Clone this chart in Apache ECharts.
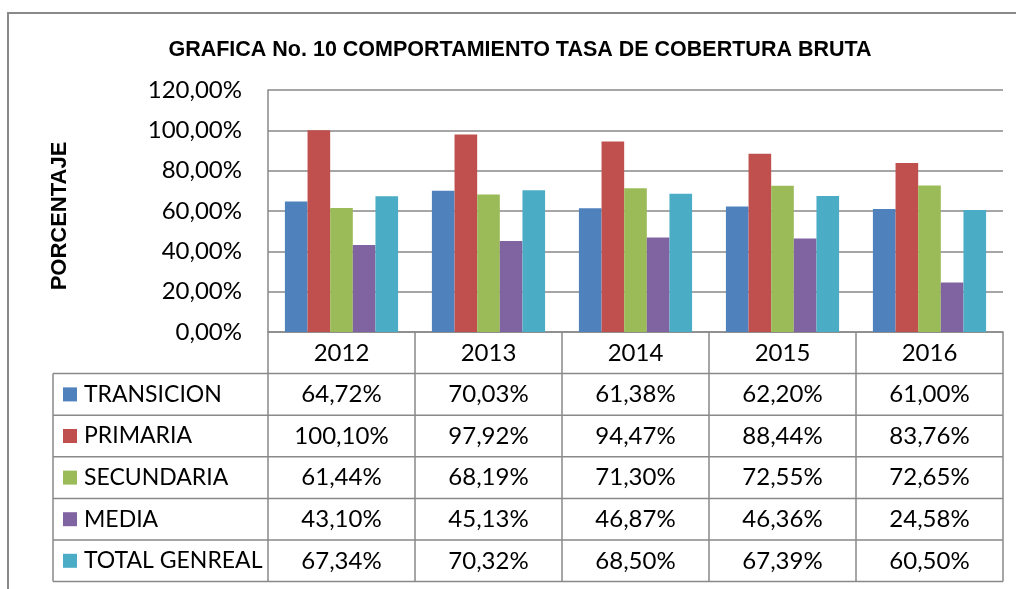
<!DOCTYPE html>
<html>
<head>
<meta charset="utf-8">
<title>Grafica No. 10</title>
<script src="https://cdn.jsdelivr.net/npm/echarts@6.0.0/dist/echarts.min.js"></script>
<style>
html, body { margin: 0; padding: 0; background: #fff; }
#main { width: 1016px; height: 589px; }
</style>
</head>
<body>
<div id="main"></div>
<script>
// datos de la grafica
var categorias = ['2012', '2013', '2014', '2015', '2016']
var nombres = ['TRANSICION', 'PRIMARIA', 'SECUNDARIA', 'MEDIA', 'TOTAL GENREAL']
var transicion = [64.72, 70.03, 61.38, 62.20, 61.00]
var primaria = [100.10, 97.92, 94.47, 88.44, 83.76]
var secundaria = [61.44, 68.19, 71.30, 72.55, 72.65]
var media = [43.10, 45.13, 46.87, 46.36, 24.58]
var totalGeneral = [67.34, 70.32, 68.50, 67.39, 60.50]
var ejeYMax = 120
var ejeYPaso = 20

var colores = ['#4F81BD', '#C0504D', '#9BBB59', '#8064A2', '#4BACC6']
var valores = [transicion, primaria, secundaria, media, totalGeneral]

var fuente = 'Lato, "Open Sans", sans-serif'
var fuenteTitulo = '"Liberation Sans", Arial, sans-serif'
var gris = '#898989'
var filaAlto = 41.6 // alto de cada fila de la tabla de datos
var textoAlto = 24
var gridIzq = 268
var gridTop = 90
var gridAbajo = 257
var gridDer = 13
var ejeAbajo = 589 - gridAbajo
var tablaIzq = 53

function pct (v) {
  return v.toFixed(2).replace('.', ',') + '%'
}

// lineas horizontales de la tabla
var lineasTabla = []
for (var k = 1; k <= 6; k++) {
  var y = ejeAbajo + filaAlto * k
  lineasTabla.push({
    type: 'line',
    shape: { x1: tablaIzq, y1: y, x2: 1016 - gridDer, y2: y },
    style: { stroke: gris, lineWidth: 1.5 }
  })
}
// borde izquierdo de la tabla
lineasTabla.push({
  type: 'line',
  shape: { x1: tablaIzq, y1: ejeAbajo + filaAlto, x2: tablaIzq, y2: ejeAbajo + filaAlto * 6 },
  style: { stroke: gris, lineWidth: 1.5 }
})
// marco exterior
lineasTabla.push({
  type: 'rect',
  shape: { x: 8, y: 13, width: 1200, height: 800 },
  style: { fill: 'none', stroke: gris, lineWidth: 2 }
})

var chart = echarts.init(document.getElementById('main'))
chart.setOption({
  animation: false,
  title: {
    text: 'GRAFICA No. 10 COMPORTAMIENTO TASA DE COBERTURA BRUTA',
    left: 515,
    top: 34,
    textAlign: 'center',
    textStyle: { fontFamily: fuenteTitulo, fontWeight: 'bold', fontSize: 21.5, color: '#000' }
  },
  legend: {
    orient: 'vertical',
    left: 63,
    top: ejeAbajo + filaAlto * 1.5 - textoAlto / 2,
    height: 300,
    padding: 0,
    itemWidth: 14,
    itemHeight: 14,
    itemGap: filaAlto - textoAlto,
    icon: 'rect',
    data: nombres,
    textStyle: { fontFamily: fuente, fontSize: 23, lineHeight: textoAlto, color: '#000', padding: [0, 0, 0, 2] }
  },
  grid: { left: gridIzq, right: gridDer, top: gridTop, bottom: gridAbajo, containLabel: false },
  xAxis: {
    type: 'category',
    data: categorias,
    axisLine: { lineStyle: { color: gris, width: 1.5 } },
    axisTick: { show: true, length: filaAlto * 6, lineStyle: { color: gris, width: 1.5 } },
    axisLabel: {
      margin: 0,
      interval: 0,
      color: '#000',
      fontFamily: fuente,
      fontSize: 24,
      lineHeight: filaAlto,
      formatter: function (v, i) {
        var lineas = [v]
        valores.forEach(function (s) { lineas.push(pct(s[i])) })
        return lineas.join('\n')
      }
    }
  },
  yAxis: {
    type: 'value',
    min: 0,
    max: ejeYMax,
    interval: ejeYPaso,
    name: 'PORCENTAJE',
    nameLocation: 'middle',
    nameRotate: 90,
    nameGap: 197,
    nameTextStyle: { fontFamily: fuenteTitulo, fontWeight: 'bold', fontSize: 22, color: '#000', padding: [0, 10, 0, 0] },
    axisLine: { show: true, lineStyle: { color: gris, width: 1.5 } },
    axisTick: { show: false },
    splitLine: { lineStyle: { color: gris, width: 1.5 } },
    axisLabel: {
      margin: 26,
      color: '#000',
      fontFamily: fuente,
      fontSize: 24,
      formatter: function (v) { return pct(v) }
    }
  },
  series: nombres.map(function (n, i) {
    return {
      name: n,
      type: 'bar',
      barGap: '0%',
      barCategoryGap: '23%',
      itemStyle: { color: colores[i] },
      data: valores[i]
    }
  }),
  graphic: lineasTabla
})
</script>
</body>
</html>
